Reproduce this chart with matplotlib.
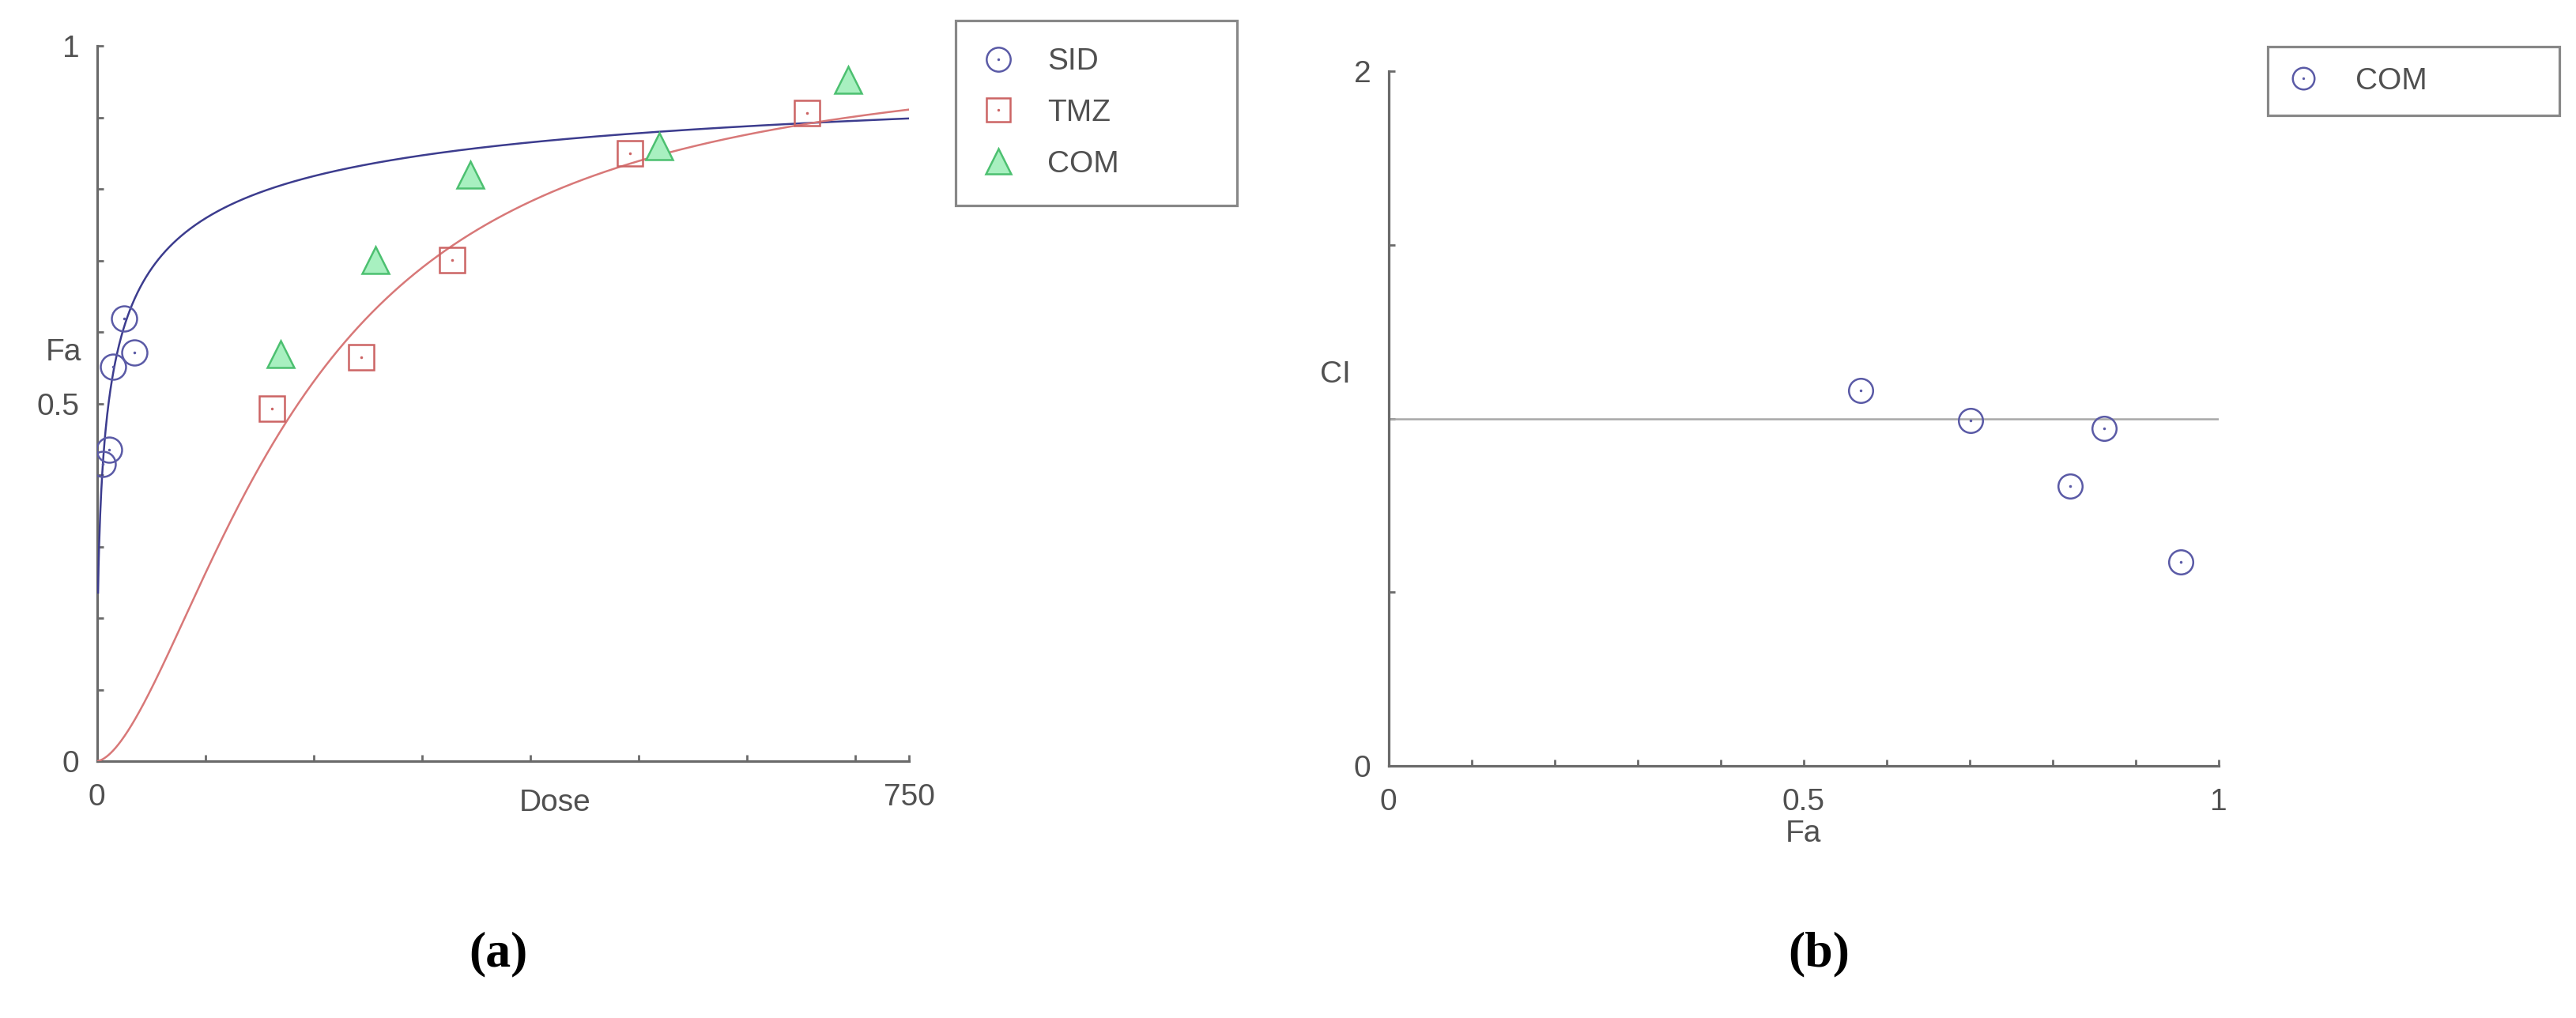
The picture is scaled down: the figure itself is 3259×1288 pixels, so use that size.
import numpy as np
import matplotlib.pyplot as plt

# dose-effect data (panel a)
sid_dose = [5.6, 11.0, 14.7, 24.9, 34.7]
sid_fa = [0.416, 0.436, 0.552, 0.619, 0.572]
tmz_dose = [162, 244, 328, 492, 656]
tmz_fa = [0.493, 0.565, 0.701, 0.850, 0.906]
com_dose = [170, 257, 345, 519, 694]
com_fa = [0.569, 0.701, 0.820, 0.860, 0.953]

# median-effect curve parameters (Dm, m)
sid_dm, sid_m = 10.8, 0.515
tmz_dm, tmz_m = 186.0, 1.67
sid_curve_start = 1.1
dose_max = 750

# combination index (panel b)
ci_fa = [0.569, 0.701, 0.821, 0.862, 0.955]
ci_val = [1.080, 0.995, 0.806, 0.971, 0.588]

blue_line = "#3c3c8e"
blue_mk = "#5a5aa6"
red_line = "#d87878"
red_mk = "#cc6464"
green_edge = "#4cc070"
green_fill = "#a8f0c0"
axcol = "#6a6a6a"
txtcol = "#505050"

plt.rcParams['font.family'] = ['Liberation Sans', 'DejaVu Sans']
FS = 28

fig = plt.figure(figsize=(32.59, 12.88), dpi=100)
W, H = 3259., 1288.

def style_axes(ax):
    for s in ["top", "right"]:
        ax.spines[s].set_visible(False)
    for s in ["left", "bottom"]:
        ax.spines[s].set_color(axcol)
        ax.spines[s].set_linewidth(2.3)
    ax.tick_params(which="both", direction="in", color=axcol, width=2, length=6,
                   labelsize=FS, labelcolor=txtcol)
    ax.tick_params(axis="x", which="both", pad=20)
    ax.tick_params(axis="y", which="both", pad=16)

def median_effect(d, dm, m):
    x = (np.asarray(d) / dm) ** m
    return x / (1 + x)

# ---------------- panel a ----------------
ax1 = fig.add_axes([122.5/W, 1-963/H, (1150-122.5)/W, (963-58.3)/H])
style_axes(ax1)

d_sid = np.linspace(sid_curve_start, dose_max, 1500)
d_tmz = np.linspace(0, dose_max, 1500)
ax1.plot(d_sid, median_effect(d_sid, sid_dm, sid_m), color=blue_line, lw=1.8, zorder=3)
ax1.plot(d_tmz, median_effect(d_tmz, tmz_dm, tmz_m), color=red_line, lw=1.8, zorder=3)

h_sid = ax1.plot(sid_dose, sid_fa, 'o', ms=23, mfc='none', mec=blue_mk, mew=1.8, zorder=4)[0]
h_sid_d = ax1.plot(sid_dose, sid_fa, '.', ms=3, color=blue_mk, zorder=4)[0]
h_tmz = ax1.plot(tmz_dose, tmz_fa, 's', ms=23, mfc='none', mec=red_mk, mew=1.8, zorder=4)[0]
h_tmz_d = ax1.plot(tmz_dose, tmz_fa, '.', ms=3, color=red_mk, zorder=4)[0]
h_com = ax1.plot(com_dose, com_fa, '^', ms=24, mfc=green_fill, mec=green_edge, mew=1.8, zorder=4)[0]

ax1.set_xlim(0, dose_max)
ax1.set_ylim(0, 1)
ax1.set_xticks([0, 750])
ax1.set_xticklabels(["0", "750"])
ax1.set_xticks(np.arange(100, 701, 100), minor=True)
ax1.set_yticks([0, 0.5, 1])
ax1.set_yticklabels(["0", "0.5", "1"])
ax1.set_yticks(np.arange(0.1, 0.95, 0.1), minor=True)

fig.text(80/W, 1-446/H, "Fa", fontsize=FS, color=txtcol, ha="center", va="center")
fig.text(702/W, 1-1016/H, "Dose", fontsize=FS, color=txtcol, ha="center", va="center")

leg1 = ax1.legend([(h_sid, h_sid_d), (h_tmz, h_tmz_d), h_com], ["SID", "TMZ", "COM"],
                  loc="upper left", bbox_to_anchor=(1209/W, 0.5, (1565-1209)/W, 1-26/H-0.5),
                  bbox_transform=fig.transFigure, mode="expand", borderaxespad=0,
                  fontsize=FS, frameon=True, fancybox=False, borderpad=0.88,
                  handlelength=1.0, handletextpad=1.1, labelspacing=0.74, markerscale=0.95)
leg1.get_frame().set_edgecolor(axcol)
leg1.get_frame().set_linewidth(2.3)
for t in leg1.get_texts():
    t.set_color(txtcol)

# ---------------- panel b ----------------
ax2 = fig.add_axes([1756.7/W, 1-969.3/H, 1050/W, (969.3-90)/H])
style_axes(ax2)
ax2.axhline(1.0, color="#a8a8a8", lw=1.8, zorder=2)
h_ci = ax2.plot(ci_fa, ci_val, 'o', ms=22, mfc='none', mec=blue_mk, mew=1.8, zorder=4)[0]
h_ci_d = ax2.plot(ci_fa, ci_val, '.', ms=3, color=blue_mk, zorder=4)[0]

ax2.set_xlim(0, 1)
ax2.set_ylim(0, 2)
ax2.set_xticks([0, 0.5, 1])
ax2.set_xticklabels(["0", "0.5", "1"])
ax2.set_xticks(np.arange(0.1, 0.95, 0.1), minor=True)
ax2.set_yticks([0, 2])
ax2.set_yticklabels(["0", "2"])
ax2.set_yticks([0.5, 1.0, 1.5], minor=True)

fig.text(1689/W, 1-474/H, "CI", fontsize=FS, color=txtcol, ha="center", va="center")
fig.text(2281/W, 1-1055/H, "Fa", fontsize=FS, color=txtcol, ha="center", va="center")

leg2 = ax2.legend([(h_ci, h_ci_d)], ["COM"],
                  loc="upper left", bbox_to_anchor=(2869/W, 0.5, (3238-2869)/W, 1-59/H-0.5),
                  bbox_transform=fig.transFigure, mode="expand", borderaxespad=0,
                  fontsize=FS, frameon=True, fancybox=False, borderpad=0.66,
                  handlelength=1.0, handletextpad=1.2, markerscale=0.9)
leg2.get_frame().set_edgecolor(axcol)
leg2.get_frame().set_linewidth(2.3)
for t in leg2.get_texts():
    t.set_color(txtcol)

# panel captions
fig.text(630/W, 1-1207/H, "(a)", fontsize=46, fontweight="bold", family="Liberation Serif",
         ha="center", va="center", color="black")
fig.text(2301/W, 1-1207/H, "(b)", fontsize=46, fontweight="bold", family="Liberation Serif",
         ha="center", va="center", color="black")

fig.savefig("out.png", dpi=100, facecolor="white")
